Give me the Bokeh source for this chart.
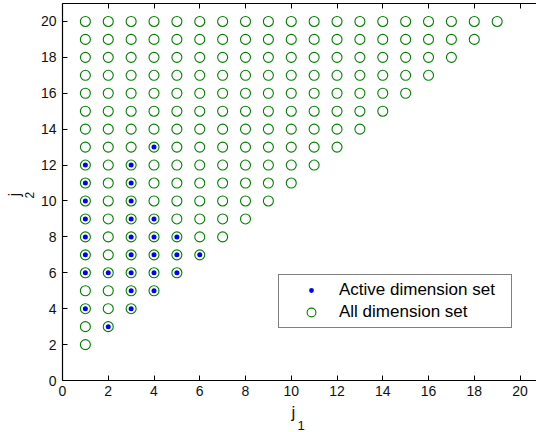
from bokeh.plotting import figure
from bokeh.models import LinearAxis, FixedTicker, Legend, LegendItem, Range1d, Title
from bokeh.embed import file_html
from bokeh.resources import INLINE

# Data
# All dimension set: for each j1 column, j2 runs from the lowest to the highest value shown
all_cols_j1 = [1, 2, 3, 4, 5, 6, 7, 8, 9, 10, 11, 12, 13, 14, 15, 16, 17, 18, 19]
all_cols_j2_low = [2, 3, 4, 5, 6, 7, 8, 9, 10, 11, 12, 13, 14, 15, 16, 17, 18, 19, 20]
all_cols_j2_high = [20, 20, 20, 20, 20, 20, 20, 20, 20, 20, 20, 20, 20, 20, 20, 20, 20, 20, 20]

# Active dimension set
active_j1 = [1, 1, 1, 1, 1, 1, 1, 1,
             2, 2,
             3, 3, 3, 3, 3, 3, 3, 3, 3,
             4, 4, 4, 4, 4, 4,
             5, 5, 5,
             6]
active_j2 = [4, 6, 7, 8, 9, 10, 11, 12,
             3, 6,
             4, 5, 6, 7, 8, 9, 10, 11, 12,
             5, 6, 7, 8, 9, 13,
             6, 7, 8,
             7]

ticks = [0, 2, 4, 6, 8, 10, 12, 14, 16, 18, 20]

all_j1, all_j2 = [], []
for c, lo, hi in zip(all_cols_j1, all_cols_j2_low, all_cols_j2_high):
    for v in range(lo, hi + 1):
        all_j1.append(c)
        all_j2.append(v)

FONT = "Liberation Sans"

p = figure(width=536, height=432, output_backend="svg", toolbar_location=None,
           x_range=Range1d(0, 20.72), y_range=Range1d(0, 21),
           min_border_left=62, min_border_right=0, min_border_top=3, min_border_bottom=52,
           x_axis_location=None, y_axis_location=None)
p.outline_line_color = None
p.xgrid.visible = False
p.ygrid.visible = False
p.background_fill_color = "white"
p.border_fill_color = "white"

# blue dot: filled disk with a wide white rim (hidden on the white background),
# so the legend also shows a small dot
r_act = p.scatter(active_j1, active_j2, marker="circle", size=9, fill_color="#0000ff",
                  line_color="white", line_width=4)
r_all = p.scatter(all_j1, all_j2, marker="circle", size=10, fill_color=None,
                  line_color="#008000", line_width=1.1)

def style(ax):
    ax.ticker = FixedTicker(ticks=ticks)
    ax.major_tick_in = 5
    ax.major_tick_out = 0
    ax.minor_tick_in = 0
    ax.minor_tick_out = 0
    ax.axis_line_color = "black"
    ax.axis_line_width = 1.2
    ax.major_tick_line_color = "black"
    ax.major_label_text_font = FONT
    ax.major_label_text_color = "#111111"
    ax.major_label_text_font_size = "14px"

xb = LinearAxis()
style(xb)
xb.major_label_standoff = 5
p.add_layout(xb, "below")

yl = LinearAxis()
style(yl)
yl.major_label_standoff = 6
p.add_layout(yl, "left")

xt = LinearAxis()
style(xt)
xt.major_label_text_color = None
xt.major_label_text_font_size = "1px"
xt.major_label_standoff = 0
p.add_layout(xt, "above")

# axis labels j1 / j2 built from stacked title panels (letter + lowered subscript)
tl = dict(text_font=FONT, text_color="#111111", text_font_style="normal", align="left")
p.add_layout(Title(text="j", text_font_size="17px", offset=229, standoff=5, **tl), "below")
p.add_layout(Title(text="1", text_font_size="13px", offset=235, standoff=-11, **tl), "below")
p.add_layout(Title(text="2", text_font_size="12px", offset=182, standoff=8, **tl), "left")
p.add_layout(Title(text="j", text_font_size="17px", offset=184, standoff=-10, **tl), "left")

legend = Legend(items=[LegendItem(label="Active dimension set", renderers=[r_act]),
                       LegendItem(label="All dimension set", renderers=[r_all])],
                location=(216, 52))
legend.margin = 0
legend.padding = 4
legend.spacing = 0
legend.glyph_width = 56
legend.glyph_height = 22
legend.label_height = 22
legend.label_width = 168
legend.label_standoff = 0
legend.label_text_font = FONT
legend.label_text_font_size = "17px"
legend.label_text_color = "black"
legend.border_line_color = "black"
legend.border_line_width = 1
legend.background_fill_color = "white"
legend.background_fill_alpha = 1
p.add_layout(legend, "center")

open("out.html", "w").write(file_html(p, INLINE))
